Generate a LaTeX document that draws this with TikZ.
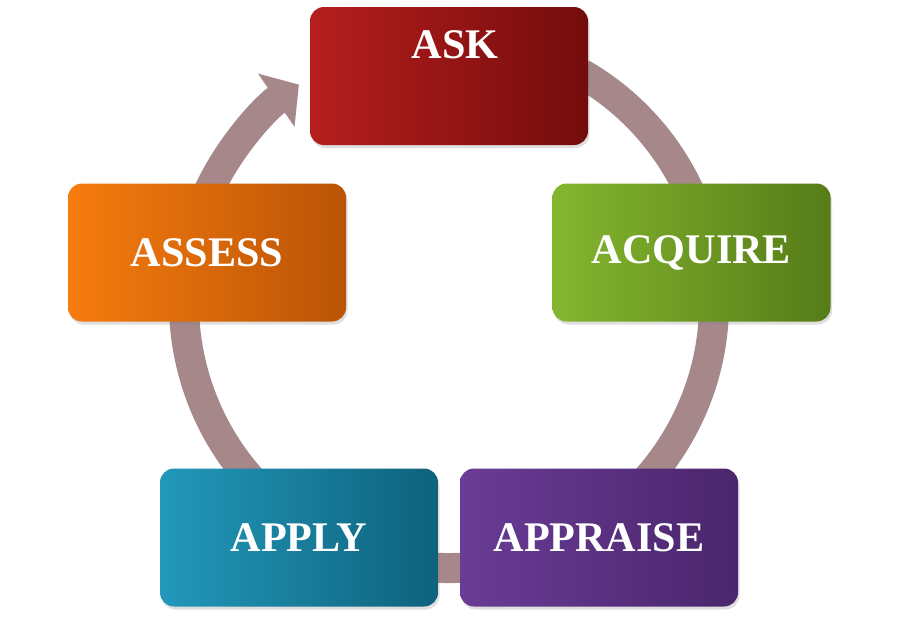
\documentclass[tikz,border=0pt]{standalone}
\usepackage{fontspec}
\setmainfont{Liberation Serif}
\usetikzlibrary{arrows.meta,shadows}

\definecolor{askL}{RGB}{182,30,30}
\definecolor{askR}{RGB}{116,12,12}
\definecolor{acqL}{RGB}{132,182,46}
\definecolor{acqR}{RGB}{86,124,24}
\definecolor{aprL}{RGB}{106,60,150}
\definecolor{aprR}{RGB}{74,38,108}
\definecolor{aplL}{RGB}{34,152,186}
\definecolor{aplR}{RGB}{14,98,124}
\definecolor{asmL}{RGB}{246,124,14}
\definecolor{asmR}{RGB}{186,84,6}
\definecolor{ringc}{RGB}{166,136,139}

\begin{document}
\begin{tikzpicture}
            \tikzset{stagebox/.style={rectangle,rounded corners=0.28cm,
                       minimum width=5.56cm,minimum height=2.76cm,
                       text=white,font=\bfseries\fontsize{24}{28}\selectfont,
                       drop shadow={opacity=0.25,shadow xshift=0.03cm,shadow yshift=-0.06cm}},
                     boxtext/.style={text=white,font=\bfseries\fontsize{24}{28}\selectfont},
                     ring/.style={draw=ringc,line width=0.6cm,
                       -{Triangle[width=1.26cm,length=0.55cm]}}}
            \useasboundingbox (0,0) rectangle (18,-12.4);

            % the cycle behind the boxes
            \coordinate (ctr) at (8.98,-6.06);
            \draw[ring] (ctr) ++(60:5.3) arc[start angle=60,end angle=-235.5,radius=5.3];

            % the five stages
            \node[stagebox,left color=askL,right color=askR] (ask) at (8.98,-1.52){};
            \node[boxtext] (asklbl) at ([xshift=0.12cm,yshift=0.62cm]ask.center){ASK};
            \node[stagebox,left color=acqL,right color=acqR] (acquire) at (13.83,-5.05){ACQUIRE};
            \node[stagebox,left color=aprL,right color=aprR] (appraise) at (11.98,-10.75){APPRAISE};
            \node[stagebox,left color=aplL,right color=aplR] (apply) at (5.98,-10.75){APPLY};
            \node[stagebox,left color=asmL,right color=asmR] (assess) at (4.14,-5.05){ASSESS};
\end{tikzpicture}
\end{document}
